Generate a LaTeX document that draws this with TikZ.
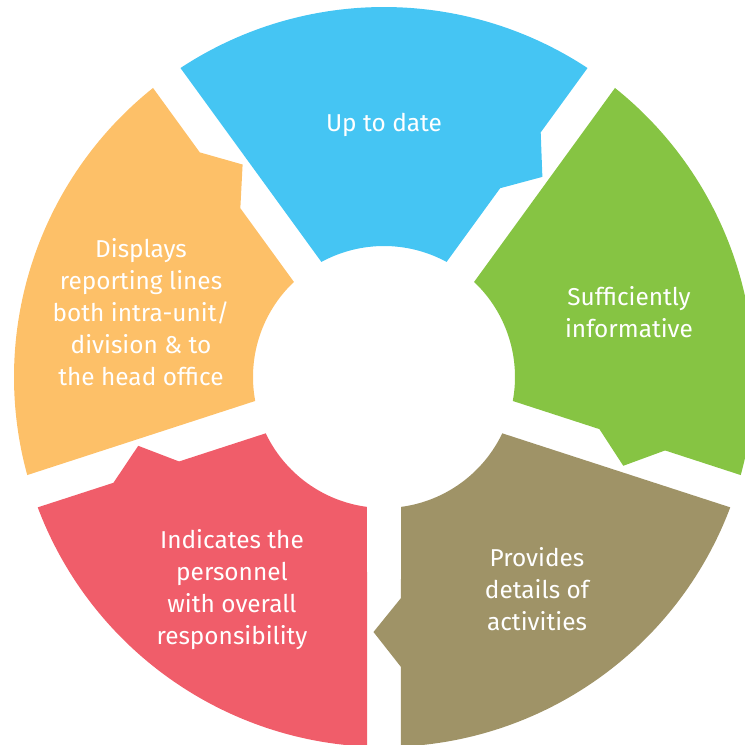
\documentclass[tikz,border=0pt]{standalone}
\usepackage{fontspec}
\setsansfont{Fira Sans}
\definecolor{skyblue}{HTML}{45C5F3}
\definecolor{leafgreen}{HTML}{86C443}
\definecolor{olivebrown}{HTML}{9F9367}
\definecolor{coralred}{HTML}{F05D6A}
\definecolor{sandorange}{HTML}{FDC068}

\begin{document}
\begin{tikzpicture}[x=0.5pt,y=0.5pt,font=\sffamily,piece/.style={draw=none},caption/.style={text=white,align=center,font=\sffamily\fontsize{12.2}{16}\selectfont}]
\clip (-384,-368) rectangle (361,377);
% five pieces of the ring, each with its tab on the clockwise side
\begin{scope}[rotate=54]
\fill[piece,fill=skyblue] (7.46:131) -- (221,17) -- (255,-10.5) -- (290,17) -- (2.63:370) arc[start angle=2.63,end angle=69.37,radius=370] -- (64.54:131) arc[start angle=64.54,end angle=7.46,radius=131] -- cycle;
\end{scope}
\begin{scope}[rotate=126]
\fill[piece,fill=sandorange] (7.46:131) -- (221,17) -- (255,-10.5) -- (290,17) -- (2.63:370) arc[start angle=2.63,end angle=69.37,radius=370] -- (64.54:131) arc[start angle=64.54,end angle=7.46,radius=131] -- cycle;
\end{scope}
\begin{scope}[rotate=198]
\fill[piece,fill=coralred] (7.46:131) -- (221,17) -- (255,-10.5) -- (290,17) -- (2.63:370) arc[start angle=2.63,end angle=69.37,radius=370] -- (64.54:131) arc[start angle=64.54,end angle=7.46,radius=131] -- cycle;
\end{scope}
\begin{scope}[rotate=270]
\fill[piece,fill=olivebrown] (7.46:131) -- (221,17) -- (255,-10.5) -- (290,17) -- (2.63:370) arc[start angle=2.63,end angle=69.37,radius=370] -- (64.54:131) arc[start angle=64.54,end angle=7.46,radius=131] -- cycle;
\end{scope}
\begin{scope}[rotate=-18]
\fill[piece,fill=leafgreen] (7.46:131) -- (221,17) -- (255,-10.5) -- (290,17) -- (2.63:370) arc[start angle=2.63,end angle=69.37,radius=370] -- (64.54:131) arc[start angle=64.54,end angle=7.46,radius=131] -- cycle;
\end{scope}
% labels
\node[caption] (uptodate) at (0,252) {Up to date};
\node[caption] (informative) at (245,65) {Sufficiently\\informative};
\node[caption] (activities) at (153,-212) {Provides\\details of\\activities};
\node[caption] (personnel) at (-152,-213) {Indicates the\\personnel\\with overall\\responsibility};
\node[caption] (reporting) at (-243,65) {Displays\\reporting lines\\both intra-unit/\\division \& to\\the head office};
\end{tikzpicture}
\end{document}
